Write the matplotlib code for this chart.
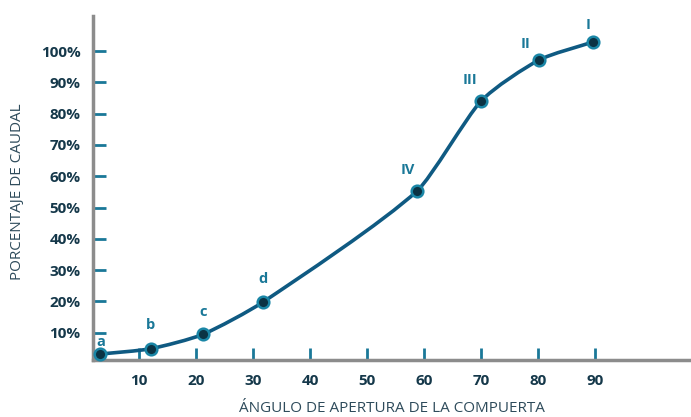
import matplotlib
matplotlib.use("Agg")
import matplotlib.pyplot as plt
from matplotlib.path import Path
from matplotlib.patches import PathPatch
import numpy as np

# data
angles = [3.2, 12.0, 21.2, 31.8, 58.8, 69.9, 80.1, 89.6]
caudal = [3.2, 4.9, 9.5, 19.9, 55.4, 83.9, 97.1, 102.9]
point_labels = ["a", "b", "c", "d", "IV", "III", "II", "I"]
label_offsets = [(0, 12), (0, 24), (0, 22), (0, 23), (-10, 21), (-11, 21), (-13, 16), (-5, 17)]
x_ticks = [10, 20, 30, 40, 50, 60, 70, 80, 90]
y_ticks = [10, 20, 30, 40, 50, 60, 70, 80, 90, 100]

line_col = "#0f5a82"
dot_col = "#0b3344"
edge_col = "#1a86a6"
lab_col = "#1a7898"
tick_col = "#15384a"
spine_col = "#8c8c8c"

plt.rcParams['font.family'] = ['Open Sans', 'DejaVu Sans']

fig = plt.figure(figsize=(6.91, 4.17), dpi=100)
ax = fig.add_axes([93 / 691, (417 - 360) / 417, 1 - 93 / 691, (360 - 16) / 417])
ax.set_xlim(1.9, 106.8)
ax.set_ylim(1.3, 111.2)

# smooth curve through the points (hermite segments drawn as cubic beziers,
# short handles so the segments stay fairly straight)
x = np.array(angles)
y = np.array(caudal)
n = len(x)
d = np.diff(y) / np.diff(x)
m = np.zeros(n)
m[0], m[-1] = d[0], d[-1]
for i in range(1, n - 1):
    m[i] = (y[i + 1] - y[i - 1]) / (x[i + 1] - x[i - 1])
k = 0.22
verts = [(x[0], y[0])]
codes = [Path.MOVETO]
for i in range(n - 1):
    h = x[i + 1] - x[i]
    verts += [(x[i] + h * k, y[i] + m[i] * h * k),
              (x[i + 1] - h * k, y[i + 1] - m[i + 1] * h * k),
              (x[i + 1], y[i + 1])]
    codes += [Path.CURVE4] * 3
ax.add_patch(PathPatch(Path(verts, codes), fill=False, color=line_col, lw=2.6,
                       capstyle='round', zorder=3))

ax.scatter(angles, caudal, s=70, color=dot_col, edgecolor=edge_col, linewidth=1.8,
           zorder=4, clip_on=False)

for xx, yy, t, (dx, dy) in zip(angles, caudal, point_labels, label_offsets):
    ax.annotate(t, (xx, yy), xytext=(dx, dy), textcoords='offset pixels',
                ha='center', va='center', color=lab_col, fontsize=10.5,
                fontweight='bold', annotation_clip=False)

for s in ['top', 'right']:
    ax.spines[s].set_visible(False)
for s in ['left', 'bottom']:
    ax.spines[s].set_color(spine_col)
    ax.spines[s].set_linewidth(2.5)

ax.set_xticks(x_ticks)
ax.set_xticklabels([str(v) for v in x_ticks])
ax.set_yticks(y_ticks)
ax.set_yticklabels([f"{v}%" for v in y_ticks])
ax.tick_params(axis='both', direction='in', length=9, width=2, color='#1a7898',
               labelsize=11, labelcolor=tick_col)
ax.tick_params(axis='x', pad=10)
ax.tick_params(axis='y', pad=9)
for lbl in ax.get_xticklabels() + ax.get_yticklabels():
    lbl.set_fontweight('bold')

fig.text(392 / 691, 1 - 408 / 417, "ÁNGULO DE APERTURA DE LA COMPUERTA",
         ha='center', va='center', fontsize=11, color='#2e4b5b')
fig.text(18 / 691, 1 - 192 / 417, "PORCENTAJE DE CAUDAL", rotation=90,
         ha='center', va='center', fontsize=11, color='#2e4b5b')

fig.savefig("out.png", dpi=100)
